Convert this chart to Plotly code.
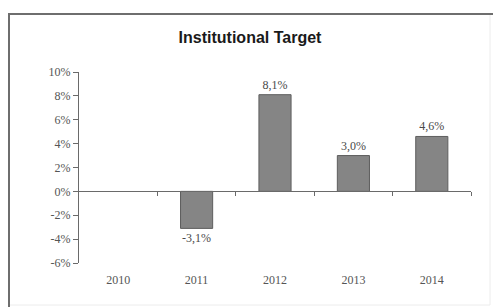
import plotly.graph_objects as go

years = ["2010", "2011", "2012", "2013", "2014"]
values = [None, -3.1, 8.1, 3.0, 4.6]
y_ticks = [-6, -4, -2, 0, 2, 4, 6, 8, 10]
y_tick_labels = ["-6%", "-4%", "-2%", "0%", "2%", "4%", "6%", "8%", "10%"]

# page body has an 8px margin, so the figure starts at (8, 8) in the window
OFF = 8
W, H = 501 - OFF, 307 - OFF
L = 79 - OFF
T = 72 - OFF
pw = 392
ph = 191
R = W - L - pw
B = H - T - ph


def px(x):
    return (x - OFF - L) / pw


def py(y):
    return (H - B - (y - OFF)) / ph


fig = go.Figure()
fig.add_trace(go.Bar(
    x=list(range(len(years))), y=values,
    marker=dict(color="#858585", line=dict(color="#5e5e5e", width=1)),
    width=0.41,
    texttemplate="%{y:.1f}%", textposition="outside",
    textfont=dict(family="Liberation Serif", size=12, color="#4a4a4a"),
    cliponaxis=False,
    hoverinfo="skip",
))
fig.add_trace(go.Scatter(x=[-0.5, len(years) - 0.5], y=[0, 0], xaxis="x2",
                         mode="lines", line=dict(color="rgba(0,0,0,0)"),
                         hoverinfo="skip", showlegend=False))

ymin, ymax = -6, 10
fig.update_layout(
    width=W, height=H,
    margin=dict(l=L, r=R, t=T, b=B),
    paper_bgcolor="white", plot_bgcolor="white",
    showlegend=False,
    separators=",.",
    title=dict(text="<b>Institutional Target</b>", x=(250 - OFF) / W, xref="container",
               xanchor="center", y=1 - (37 - OFF) / H, yanchor="middle",
               font=dict(family="Liberation Sans", size=16, color="#1a1a1a")),
    xaxis=dict(range=[-0.5, len(years) - 0.5], tickmode="array",
               tickvals=list(range(len(years))), ticktext=years,
               showline=False, showgrid=False, zeroline=False, ticks="",
               tickfont=dict(family="Liberation Serif", size=12, color="#555555"),
               ticklabelstandoff=8),
    xaxis2=dict(overlaying="x", anchor="free", position=(0 - ymin) / (ymax - ymin),
                side="bottom",
                range=[-0.5, len(years) - 0.5], tickmode="array",
                tickvals=[i + 0.5 for i in range(len(years))],
                showticklabels=False, ticks="outside", ticklen=4,
                tickcolor="#6a6a6a", showline=True, linecolor="#6a6a6a",
                linewidth=1, showgrid=False, zeroline=False),
    yaxis=dict(range=[ymin, ymax], tickmode="array", tickvals=y_ticks,
               ticktext=y_tick_labels, showline=True, linecolor="#6a6a6a",
               linewidth=1, ticks="outside", ticklen=5, tickcolor="#6a6a6a",
               showgrid=False, zeroline=False,
               tickfont=dict(family="Liberation Serif", size=12, color="#555555")),
    shapes=[
        # outer chart frame: dark top/left, faint right/bottom
        dict(type="line", xref="paper", yref="paper",
             x0=px(8), x1=px(501), y0=py(14), y1=py(14),
             line=dict(color="#6e6e6e", width=2), layer="below"),
        dict(type="line", xref="paper", yref="paper",
             x0=px(9), x1=px(9), y0=py(13), y1=py(307),
             line=dict(color="#6e6e6e", width=2), layer="below"),
        dict(type="line", xref="paper", yref="paper",
             x0=px(490), x1=px(490), y0=py(15), y1=py(305),
             line=dict(color="#ececec", width=1), layer="below"),
        dict(type="line", xref="paper", yref="paper",
             x0=px(10), x1=px(490), y0=py(305), y1=py(305),
             line=dict(color="#ececec", width=1), layer="below"),
    ],
)

fig.write_html("out.html")
